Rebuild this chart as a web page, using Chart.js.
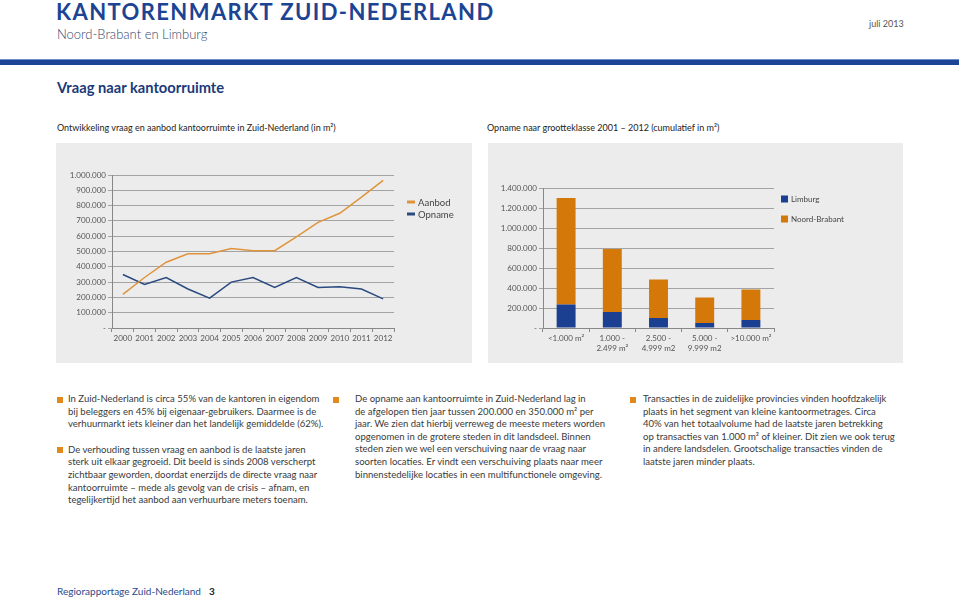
<!DOCTYPE html>
<html lang="nl">
<head>
<meta charset="utf-8">
<title>Kantorenmarkt Zuid-Nederland</title>
<script src="https://cdn.jsdelivr.net/npm/chart.js@4.4.1/dist/chart.umd.min.js"></script>
<style>
  html, body { margin: 0; padding: 0; background: #fff; }
  body { width: 959px; height: 602px; position: relative; overflow: hidden; font-family: Lato, "Open Sans", sans-serif; color: #333; }
  .abs { position: absolute; white-space: nowrap; }
  #titel { left: 56px; top: -2px; font-size: 22px; font-weight: bold; letter-spacing: 1.4px; color: #1c4493; }
  #subtitel { left: 57px; top: 26px; font-size: 13px; color: #34466e; font-weight: 300; }
  #datum { left: 869px; top: 18px; font-size: 9px; color: #555; }
  #balk { left: 0; top: 59px; width: 959px; height: 5px; background: #1d4396; border-top: 1px solid #6b8fcc; }
  #kop { left: 57px; top: 78px; font-size: 14.7px; font-weight: bold; color: #1b3a78; }
  .onderschrift { top: 122px; font-size: 9px; color: #222; }
  .paneel { position: absolute; top: 143px; height: 220px; background: #ececec; }
  .paneel canvas { display: block; }
  .blok { position: absolute; font-size: 9.55px; line-height: 12.6px; color: #3a3a3a; white-space: nowrap; }
  .blok p { margin: 0 0 13px 0; position: relative; }
  .blok p::before { content: ""; position: absolute; width: 6px; height: 6px; background: #e08a1e; top: 3.5px; }
  #voet { left: 57px; top: 585px; font-size: 10px; color: #2a4a8a; }
  #voet b { color: #222; margin-left: 8px; }
</style>
</head>
<body>
<div id="titel" class="abs">KANTORENMARKT ZUID-NEDERLAND</div>
<div id="subtitel" class="abs">Noord-Brabant en Limburg</div>
<div id="datum" class="abs">juli 2013</div>
<div id="balk" class="abs"></div>
<div id="kop" class="abs">Vraag naar kantoorruimte</div>

<div class="abs onderschrift" style="left:57px">Ontwikkeling vraag en aanbod kantoorruimte in Zuid-Nederland (in m²)</div>
<div class="abs onderschrift" style="left:487px">Opname naar grootteklasse 2001 – 2012 (cumulatief in m²)</div>

<div class="paneel" style="left:56px; width:416px;"><canvas id="lijnGrafiek" width="416" height="220"></canvas></div>
<div class="paneel" style="left:488px; width:415px;"><canvas id="staafGrafiek" width="415" height="220"></canvas></div>

<div class="blok" style="left:68px; top:393px;">
  <p class="k1">In Zuid-Nederland is circa 55% van de kantoren in eigendom<br>bij beleggers en 45% bij eigenaar-gebruikers. Daarmee is de<br>verhuurmarkt iets kleiner dan het landelijk gemiddelde (62%).</p>
  <p class="k1">De verhouding tussen vraag en aanbod is de laatste jaren<br>sterk uit elkaar gegroeid. Dit beeld is sinds 2008 verscherpt<br>zichtbaar geworden, doordat enerzijds de directe vraag naar<br>kantoorruimte – mede als gevolg van de crisis – afnam, en<br>tegelijkertijd het aanbod aan verhuurbare meters toenam.</p>
</div>
<div class="blok" style="left:355px; top:393px;">
  <p class="k2">De opname aan kantoorruimte in Zuid-Nederland lag in<br>de afgelopen tien jaar tussen 200.000 en 350.000 m² per<br>jaar. We zien dat hierbij verreweg de meeste meters worden<br>opgenomen in de grotere steden in dit landsdeel. Binnen<br>steden zien we wel een verschuiving naar de vraag naar<br>soorten locaties. Er vindt een verschuiving plaats naar meer<br>binnenstedelijke locaties in een multifunctionele omgeving.</p>
</div>
<div class="blok" style="left:643px; top:393px;">
  <p class="k3">Transacties in de zuidelijke provincies vinden hoofdzakelijk<br>plaats in het segment van kleine kantoormetrages. Circa<br>40% van het totaalvolume had de laatste jaren betrekking<br>op transacties van 1.000 m² of kleiner. Dit zien we ook terug<br>in andere landsdelen. Grootschalige transacties vinden de<br>laatste jaren minder plaats.</p>
</div>
<style>
  .k1::before { left: -11px; }
  .k2::before { left: -22px; }
  .k3::before { left: -13px; }
</style>

<div id="voet" class="abs">Regiorapportage Zuid-Nederland<b>3</b></div>

<script>
// gegevens lijngrafiek (m²)
const jaren = ['2000', '2001', '2002', '2003', '2004', '2005', '2006', '2007', '2008', '2009', '2010', '2011', '2012'];
const aanbod = [220000, 330000, 430000, 485000, 485000, 520000, 505000, 505000, 595000, 690000, 750000, 855000, 965000];
const opname = [350000, 285000, 330000, 255000, 195000, 300000, 330000, 265000, 330000, 265000, 270000, 255000, 190000];

// gegevens staafgrafiek (m²)
const grootteklassen = [['<1.000 m²'], ['1.000 -', '2.499 m²'], ['2.500 -', '4.999 m2'], ['5.000 -', '9.999 m2'], ['>10.000 m²']];
const limburg = [235000, 160000, 100000, 50000, 80000];
const noordBrabant = [1065000, 630000, 385000, 255000, 305000];

const oranjeLijn = '#df943c';
const blauwLijn = '#2b4a80';
const oranjeStaaf = '#d5780a';
const blauwStaaf = '#1b3f91';
const rasterKleur = '#a3a3a3';

Chart.defaults.font.family = 'Lato, "Open Sans", sans-serif';
Chart.defaults.color = '#555';

// getallen als 1.000.000, nul als streepje
function formatNL(v) {
    if (v === 0) return '-';
    return String(v).replace(/\B(?=(\d{3})+(?!\d))/g, '.');
}

// legenda rechts naast de grafiek, zelf getekend
const zijLegenda = {
    id: 'zijLegenda',
    afterDraw(chart, args, opts) {
        const ctx = chart.ctx;
        const area = chart.chartArea;
        ctx.save();
        ctx.font = opts.fontSize + 'px ' + Chart.defaults.font.family;
        ctx.textBaseline = 'middle';
        opts.volgorde.forEach((i, n) => {
            const ds = chart.data.datasets[i];
            const x = area.right + opts.dx;
            const y = area.top + opts.dy + n * opts.stap;
            ctx.fillStyle = ds.borderColor && opts.vorm === 'streep' ? ds.borderColor : ds.backgroundColor;
            if (opts.vorm === 'streep') {
                ctx.fillRect(x, y - 1.5, 8, 3);
            } else {
                ctx.fillRect(x, y - 3.5, 7, 7);
            }
            ctx.fillStyle = '#444';
            ctx.fillText(ds.label, x + opts.tekstX, y + 0.5);
        });
        ctx.restore();
    }
};

new Chart(document.getElementById('lijnGrafiek').getContext('2d'), {
    type: 'line',
    data: {
        labels: jaren,
        datasets: [{
            label: 'Aanbod',
            data: aanbod,
            borderColor: oranjeLijn,
            backgroundColor: oranjeLijn,
            borderWidth: 1.5,
            pointRadius: 0,
            tension: 0,
        }, {
            label: 'Opname',
            data: opname,
            borderColor: blauwLijn,
            backgroundColor: blauwLijn,
            borderWidth: 1.5,
            pointRadius: 0,
            tension: 0,
        }],
    },
    options: {
        responsive: false,
        animation: false,
        layout: { padding: { left: 0, right: 78, top: 32, bottom: 0 } },
        plugins: {
            legend: { display: false },
            tooltip: { enabled: false },
            zijLegenda: { volgorde: [0, 1], dx: 13, dy: 27, stap: 12, vorm: 'streep', tekstX: 11, fontSize: 9.5 },
        },
        scales: {
            x: {
                offset: true,
                grid: { offset: true, drawOnChartArea: false, drawTicks: true, tickLength: 4, color: '#888' },
                border: { color: '#888' },
                ticks: { font: { size: 8 }, padding: 2, maxRotation: 0, autoSkip: false },
                afterFit(scale) { scale.height = 35; },
            },
            y: {
                min: 0,
                max: 1000000,
                grid: { color: rasterKleur, tickLength: 4 },
                border: { color: '#888' },
                ticks: { stepSize: 100000, font: { size: 8 }, padding: 2, callback: v => formatNL(v) },
                afterFit(scale) { scale.width = 56; },
            },
        },
    },
    plugins: [zijLegenda],
});

new Chart(document.getElementById('staafGrafiek').getContext('2d'), {
    type: 'bar',
    data: {
        labels: grootteklassen,
        datasets: [{
            label: 'Limburg',
            data: limburg,
            backgroundColor: blauwStaaf,
            barPercentage: 0.41,
            categoryPercentage: 1,
        }, {
            label: 'Noord-Brabant',
            data: noordBrabant,
            backgroundColor: oranjeStaaf,
            barPercentage: 0.41,
            categoryPercentage: 1,
        }],
    },
    options: {
        responsive: false,
        animation: false,
        layout: { padding: { left: 0, right: 129, top: 45, bottom: 0 } },
        plugins: {
            legend: { display: false },
            tooltip: { enabled: false },
            zijLegenda: { volgorde: [0, 1], dx: 7, dy: 11, stap: 20, vorm: 'blok', tekstX: 10, fontSize: 8 },
        },
        scales: {
            x: {
                stacked: true,
                grid: { offset: true, drawOnChartArea: false, drawTicks: true, tickLength: 4, color: '#888' },
                border: { color: '#888' },
                ticks: { font: { size: 8 }, padding: 2, maxRotation: 0, autoSkip: false },
                afterFit(scale) { scale.height = 35; },
            },
            y: {
                stacked: true,
                min: 0,
                max: 1400000,
                grid: { color: rasterKleur, tickLength: 4 },
                border: { color: '#888' },
                ticks: { stepSize: 200000, font: { size: 8 }, padding: 2, callback: v => formatNL(v) },
                afterFit(scale) { scale.width = 55; },
            },
        },
    },
    plugins: [zijLegenda],
});
</script>
</body>
</html>
